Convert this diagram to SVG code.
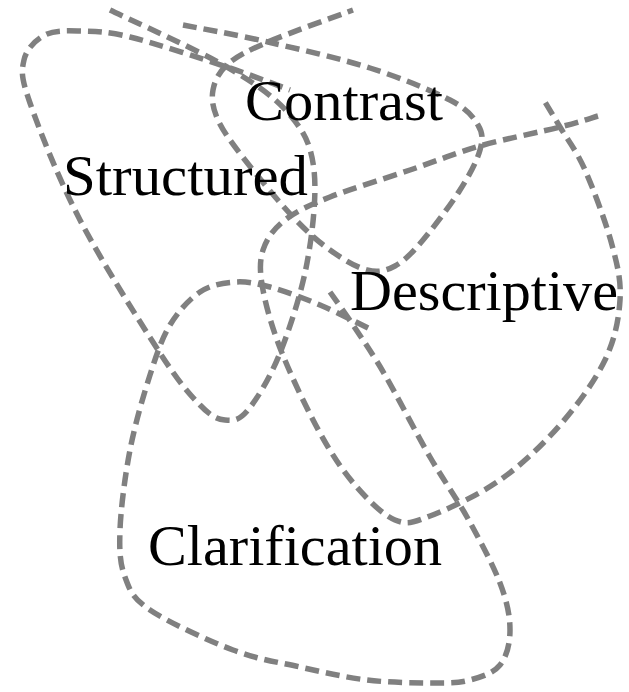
<svg xmlns="http://www.w3.org/2000/svg" width="629" height="692" viewBox="0 0 629 692">
<style>
.loop{fill:none;stroke:#808080;stroke-width:5.5;stroke-dasharray:14 7;stroke-linecap:butt}
.lbl{font-family:"Liberation Serif","DejaVu Serif",serif;font-size:56px;fill:#000}
</style>
<rect width="629" height="692" fill="#fff"/>
<g id="connectors">
<path id="loop-structured" class="loop" d="M110,10 C129.5,19.5 197,49.5 227,67 C257,84.5 275.5,97.8 290,115 C304.5,132.2 311.2,145.3 314,170 C316.8,194.7 312.7,232.5 307,263 C301.3,293.5 289.8,328.5 280,353 C270.2,377.5 257.2,398.8 248,410 C238.8,421.2 233,420.8 225,420 C217,419.2 210.8,416.2 200,405 C189.2,393.8 180,383.8 160,353 C140,322.2 101.7,261.7 80,220 C58.3,178.3 39.3,129.7 30,103 C20.7,76.3 21.5,71.3 24,60 C26.5,48.7 35.7,39.8 45,35 C54.3,30.2 65.8,30.7 80,31 C94.2,31.3 105.5,31 130,37 C154.5,43 200.3,58.2 227,67 C253.7,75.8 279.5,86.2 290,90"/>
<path id="loop-contrast" class="loop" d="M183,25 C197.2,27.8 236.8,34.8 268,42 C299.2,49.2 339.7,58.3 370,68 C400.3,77.7 432,90.5 450,100 C468,109.5 473,116.7 478,125 C483,133.3 483,139.2 480,150 C477,160.8 469.5,175 460,190 C450.5,205 433.8,227.3 423,240 C412.2,252.7 404.3,261 395,266 C385.7,271 377.8,272.7 367,270 C356.2,267.3 342.3,258.8 330,250 C317.7,241.2 307.2,232 293,217 C278.8,202 257.5,176.2 245,160 C232.5,143.8 223.3,131.7 218,120 C212.7,108.3 211.3,99.3 213,90 C214.7,80.7 218.8,72 228,64 C237.2,56 247.2,51 268,42 C288.8,33 338.8,15.3 353,10"/>
<path id="loop-descriptive" class="loop" d="M598,116 C591.7,117.8 579.7,122 560,127 C540.3,132 505,138.8 480,146 C455,153.2 435,161.5 410,170 C385,178.5 350.8,188.7 330,197 C309.2,205.3 296.2,211.2 285,220 C273.8,228.8 266.7,238.3 263,250 C259.3,261.7 259.8,272.8 263,290 C266.2,307.2 272.5,329.2 282,353 C291.5,376.8 307.8,411 320,433 C332.2,455 342.5,470.5 355,485 C367.5,499.5 382.5,514.8 395,520 C407.5,525.2 412.5,522.7 430,516 C447.5,509.3 478.3,495.2 500,480 C521.7,464.8 542.5,445 560,425 C577.5,405 595,380.8 605,360 C615,339.2 618.8,319.2 620,300 C621.2,280.8 617.8,266.7 612,245 C606.2,223.3 593.7,189.7 585,170 C576.3,150.3 566.7,138.3 560,127 C553.3,115.7 547.5,106.2 545,102"/>
<path id="loop-clarification" class="loop" d="M330,292 C334.2,298 345.8,314.2 355,328 C364.2,341.8 372.5,353.5 385,375 C397.5,396.5 416.3,433.3 430,457 C443.7,480.7 455.3,496 467,517 C478.7,538 492.8,564.2 500,583 C507.2,601.8 510,616.3 510,630 C510,643.7 506.7,656.7 500,665 C493.3,673.3 481.2,677 470,680 C458.8,683 450.2,683 433,683 C415.8,683 389.2,682.7 367,680 C344.8,677.3 322.3,672 300,667 C277.7,662 258,659.5 233,650 C208,640.5 168,622.2 150,610 C132,597.8 130,590.3 125,577 C120,563.7 119.2,551.2 120,530 C120.8,508.8 125,475.8 130,450 C135,424.2 143.3,395.8 150,375 C156.7,354.2 161.7,338.8 170,325 C178.3,311.2 189.2,299.2 200,292 C210.8,284.8 223.3,282.8 235,282 C246.7,281.2 255.8,283.2 270,287 C284.2,290.8 303,297.8 320,305 C337,312.2 363.3,325.8 372,330"/>
</g>
<g id="node-structured"><text class="lbl" x="63" y="195" textLength="245" lengthAdjust="spacingAndGlyphs">Structured</text></g>
<g id="node-contrast"><text class="lbl" x="245" y="120" textLength="198" lengthAdjust="spacingAndGlyphs">Contrast</text></g>
<g id="node-descriptive"><text class="lbl" x="350" y="310" textLength="268" lengthAdjust="spacingAndGlyphs">Descriptive</text></g>
<g id="node-clarification"><text class="lbl" x="148" y="565" textLength="294" lengthAdjust="spacingAndGlyphs">Clarification</text></g>
</svg>
